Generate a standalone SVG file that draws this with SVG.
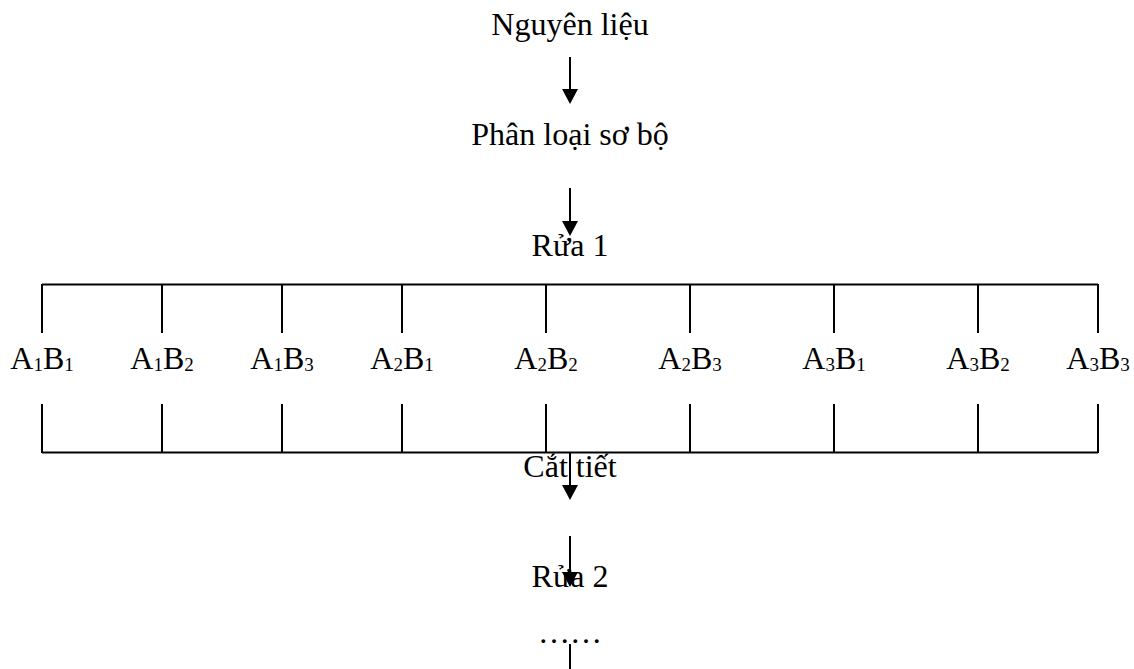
<svg xmlns="http://www.w3.org/2000/svg" width="1134" height="669" viewBox="0 0 1134 669">
  <defs>
    <style>
      .t { font-family: "Liberation Serif", "Times New Roman", serif; font-size: 32px; fill: #000; text-anchor: middle; }
      .s { font-size: 19px; }
      .ln { stroke: #000; stroke-width: 2; fill: none; }
      .hd { fill: #000; }
    </style>
  </defs>
  <rect width="1134" height="669" fill="#fff"/>

  <!-- process steps -->
  <g id="nguyen-lieu"><text class="t" x="570" y="35">Nguyên liệu</text></g>
  <g id="phan-loai"><text class="t" x="570" y="145">Phân loại sơ bộ</text></g>
  <g id="rua-1"><text class="t" x="570" y="256">Rửa 1</text></g>

  <!-- treatment variants -->
  <g id="a1b1"><text class="t" x="42" y="369">A<tspan class="s" dy="2">1</tspan><tspan dy="-2">B</tspan><tspan class="s" dy="2">1</tspan></text></g>
  <g id="a1b2"><text class="t" x="162" y="369">A<tspan class="s" dy="2">1</tspan><tspan dy="-2">B</tspan><tspan class="s" dy="2">2</tspan></text></g>
  <g id="a1b3"><text class="t" x="282" y="369">A<tspan class="s" dy="2">1</tspan><tspan dy="-2">B</tspan><tspan class="s" dy="2">3</tspan></text></g>
  <g id="a2b1"><text class="t" x="402" y="369">A<tspan class="s" dy="2">2</tspan><tspan dy="-2">B</tspan><tspan class="s" dy="2">1</tspan></text></g>
  <g id="a2b2"><text class="t" x="546" y="369">A<tspan class="s" dy="2">2</tspan><tspan dy="-2">B</tspan><tspan class="s" dy="2">2</tspan></text></g>
  <g id="a2b3"><text class="t" x="690" y="369">A<tspan class="s" dy="2">2</tspan><tspan dy="-2">B</tspan><tspan class="s" dy="2">3</tspan></text></g>
  <g id="a3b1"><text class="t" x="834" y="369">A<tspan class="s" dy="2">3</tspan><tspan dy="-2">B</tspan><tspan class="s" dy="2">1</tspan></text></g>
  <g id="a3b2"><text class="t" x="978" y="369">A<tspan class="s" dy="2">3</tspan><tspan dy="-2">B</tspan><tspan class="s" dy="2">2</tspan></text></g>
  <g id="a3b3"><text class="t" x="1098" y="369">A<tspan class="s" dy="2">3</tspan><tspan dy="-2">B</tspan><tspan class="s" dy="2">3</tspan></text></g>

  <g id="cat-tiet"><text class="t" x="570" y="477">Cắt tiết</text></g>
  <g id="rua-2"><text class="t" x="570" y="587">Rửa 2</text></g>
  <g id="tiep-theo"><text class="t" x="570" y="643">……</text></g>

  <!-- connectors -->
  <g id="connectors">
    <!-- main flow arrows -->
    <path class="ln" d="M570 57V90M570 188V222M570 452V486M570 536V573M570 644V669"/>
    <path class="hd" d="M562 89H578L570 104ZM562 221H578L570 236ZM562 485H578L570 500ZM562 572H578L570 587Z"/>
    <!-- distribution bracket -->
    <path class="ln" d="M42 284.5H1098M42 452.5H1098"/>
    <path class="ln" d="M42 284V333M162 284V333M282 284V333M402 284V333M546 284V333M690 284V333M834 284V333M978 284V333M1098 284V333"/>
    <path class="ln" d="M42 404V453M162 404V453M282 404V453M402 404V453M546 404V453M690 404V453M834 404V453M978 404V453M1098 404V453"/>
  </g>
</svg>
